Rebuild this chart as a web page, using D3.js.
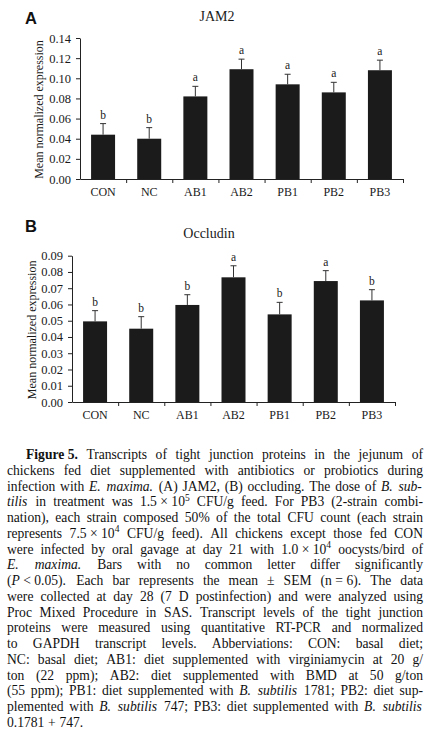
<!DOCTYPE html>
<html>
<head>
<meta charset="utf-8">
<script src="https://cdn.jsdelivr.net/npm/d3@7"></script>
<style>
  html, body { margin: 0; padding: 0; background: #fff; }
  svg { display: block; }
</style>
</head>
<body>
<div id="app"></div>
<script>
"use strict";

// treatment groups (same order in both panels)
const categories = ["CON", "NC", "AB1", "AB2", "PB1", "PB2", "PB3"];

// panel A - JAM2
const jam2Mean = [0.044, 0.040, 0.082, 0.109, 0.094, 0.086, 0.108];
const jam2Sem = [0.011, 0.011, 0.010, 0.010, 0.010, 0.010, 0.010];
const jam2Letters = ["b", "b", "a", "a", "a", "a", "a"];
const jam2Ticks = [0, 0.02, 0.04, 0.06, 0.08, 0.10, 0.12, 0.14];

// panel B - Occludin
const occMean = [0.0496, 0.0451, 0.0597, 0.0767, 0.0539, 0.0744, 0.0625];
const occSem = [0.0066, 0.0074, 0.0063, 0.0071, 0.0074, 0.0064, 0.0066];
const occLetters = ["b", "b", "b", "a", "b", "a", "b"];
const occTicks = [0, 0.01, 0.02, 0.03, 0.04, 0.05, 0.06, 0.07, 0.08, 0.09];

// caption, one entry per printed line
// _x_ italic, *x* bold, ^x^ superscript, ~ fixed space
const captionLines = [
  "*Figure~5.* Transcripts of tight junction proteins in the jejunum of",
  "chickens fed diet supplemented with antibiotics or probiotics during",
  "infection with _E._ _maxima._ (A) JAM2, (B) occluding. The dose of _B._ _sub-_",
  "_tilis_ in treatment was 1.5~×~10^5^ CFU/g feed. For PB3 (2-strain combi-",
  "nation), each strain composed 50% of the total CFU count (each strain",
  "represents 7.5~×~10^4^ CFU/g feed). All chickens except those fed CON",
  "were infected by oral gavage at day 21 with 1.0~×~10^4^ oocysts/bird of",
  "_E._ _maxima._ Bars with no common letter differ significantly",
  "(_P_~<~0.05). Each bar represents the mean ± SEM (n~=~6). The data",
  "were collected at day 28 (7 D postinfection) and were analyzed using",
  "Proc Mixed Procedure in SAS. Transcript levels of the tight junction",
  "proteins were measured using quantitative RT-PCR and normalized",
  "to GAPDH transcript levels. Abberviations: CON: basal diet;",
  "NC: basal diet; AB1: diet supplemented with virginiamycin at 20 g/",
  "ton (22 ppm); AB2: diet supplemented with BMD at 50 g/ton",
  "(55 ppm); PB1: diet supplemented with _B._ _subtilis_ 1781; PB2: diet sup-",
  "plemented with _B._ _subtilis_ 747; PB3: diet supplemented with _B._ _subtilis_",
  "0.1781 + 747."
];

const SERIF = "'Liberation Serif', 'Times New Roman', serif";
const SANS = "'Liberation Sans', Arial, sans-serif";
const INK = "#1a1a1a";

const width = 426;
const height = 734;

const svg = d3.select("#app")
  .append("svg")
  .attr("width", width)
  .attr("height", height);

svg.append("rect")
  .attr("width", width)
  .attr("height", height)
  .attr("fill", "#fff");

const panels = [
  {
    label: "A", title: "JAM2",
    means: jam2Mean, sems: jam2Sem, letters: jam2Letters, ticks: jam2Ticks,
    left: 80, right: 403, top: 38, bottom: 179,
    labelY: 24, titleY: 21, yTitleX: 43
  },
  {
    label: "B", title: "Occludin",
    means: occMean, sems: occSem, letters: occLetters, ticks: occTicks,
    left: 72, right: 395, top: 255.7, bottom: 402,
    labelY: 232, titleY: 238, yTitleX: 36
  }
];

function styleAxis(g) {
  g.attr("font-family", SERIF)
    .attr("font-size", 12.5)
    .attr("color", "#222");
  g.selectAll("text").attr("fill", INK);
}

function drawPanel(p) {
  const g = svg.append("g");

  const x = d3.scaleBand()
    .domain(categories)
    .range([p.left, p.right])
    .paddingInner(0.48)
    .paddingOuter(0.24);

  // edges between groups, for the small ticks on the x axis
  const xEdge = d3.scaleLinear()
    .domain([0, categories.length])
    .range([p.left, p.right]);

  const y = d3.scaleLinear()
    .domain([0, d3.max(p.ticks)])
    .range([p.bottom, p.top]);

  const rows = categories.map((c, i) => ({
    cat: c, mean: p.means[i], sem: p.sems[i], letter: p.letters[i]
  }));

  g.selectAll("rect.bar")
    .data(rows)
    .join("rect")
    .attr("class", "bar")
    .attr("x", d => x(d.cat))
    .attr("y", d => y(d.mean))
    .attr("width", x.bandwidth())
    .attr("height", d => y(0) - y(d.mean))
    .attr("fill", "#1b1b1b");

  const cx = d => x(d.cat) + x.bandwidth() / 2;

  // upper whisker only
  g.selectAll("line.err")
    .data(rows)
    .join("line")
    .attr("class", "err")
    .attr("x1", cx)
    .attr("x2", cx)
    .attr("y1", d => y(d.mean))
    .attr("y2", d => y(d.mean + d.sem))
    .attr("stroke", "#333")
    .attr("stroke-width", 1);

  g.selectAll("line.cap")
    .data(rows)
    .join("line")
    .attr("class", "cap")
    .attr("x1", d => cx(d) - 3)
    .attr("x2", d => cx(d) + 3)
    .attr("y1", d => y(d.mean + d.sem))
    .attr("y2", d => y(d.mean + d.sem))
    .attr("stroke", "#333")
    .attr("stroke-width", 1);

  g.selectAll("text.letter")
    .data(rows)
    .join("text")
    .attr("class", "letter")
    .attr("x", cx)
    .attr("y", d => y(d.mean + d.sem) - 5)
    .attr("text-anchor", "middle")
    .attr("font-family", SERIF)
    .attr("font-size", 11.5)
    .attr("fill", INK)
    .text(d => d.letter);

  // y axis
  g.append("g")
    .attr("transform", `translate(${p.left},0)`)
    .call(d3.axisLeft(y)
      .tickValues(p.ticks)
      .tickFormat(d3.format(".2f"))
      .tickSize(4)
      .tickSizeOuter(0)
      .tickPadding(5))
    .call(styleAxis);

  // x axis line + edge ticks
  g.append("g")
    .attr("transform", `translate(0,${p.bottom})`)
    .call(d3.axisBottom(xEdge)
      .tickValues(d3.range(1, categories.length + 1))
      .tickFormat("")
      .tickSize(4)
      .tickSizeOuter(0))
    .call(styleAxis);

  // category labels
  g.append("g")
    .attr("transform", `translate(0,${p.bottom})`)
    .call(d3.axisBottom(x).tickSize(0).tickPadding(8.5))
    .call(styleAxis)
    .call(a => a.select(".domain").remove())
    .call(a => a.selectAll("text").attr("font-size", 12));

  // y title
  g.append("text")
    .attr("transform", `translate(${p.yTitleX},${(p.top + p.bottom) / 2 + 1}) rotate(-90)`)
    .attr("text-anchor", "middle")
    .attr("font-family", SERIF)
    .attr("font-size", 12)
    .attr("fill", INK)
    .text("Mean normalized expression");

  // chart title
  g.append("text")
    .attr("x", p.left + 137)
    .attr("y", p.titleY)
    .attr("text-anchor", "middle")
    .attr("font-family", SERIF)
    .attr("font-size", 14)
    .attr("fill", INK)
    .text(p.title);

  // panel letter
  g.append("text")
    .attr("x", 25)
    .attr("y", p.labelY)
    .attr("font-family", SANS)
    .attr("font-weight", "bold")
    .attr("font-size", 16.5)
    .attr("fill", "#111")
    .text(p.label);
}

panels.forEach(drawPanel);

// ---- caption ----

function parseWord(word) {
  const parts = word.split(/(_[^_]+_|\*[^*]+\*|\^[^^]+\^)/).filter(s => s.length);
  return parts.map(s => {
    let style = "plain";
    let t = s;
    if (s[0] === "_") { style = "italic"; t = s.slice(1, -1); }
    else if (s[0] === "*") { style = "bold"; t = s.slice(1, -1); }
    else if (s[0] === "^") { style = "sup"; t = s.slice(1, -1); }
    return { t: t.replace(/~/g, "\u00a0"), style: style };
  });
}

function layLine(cap, line, yBase, fs) {
  return line.split(" ").map(w => {
    const t = cap.append("text").attr("y", yBase).attr("font-size", fs);
    parseWord(w).forEach(r => {
      const ts = t.append("tspan").text(r.t);
      if (r.style === "italic") ts.attr("font-style", "italic");
      if (r.style === "bold") ts.attr("font-weight", "bold");
      if (r.style === "sup") ts.attr("font-size", fs * 0.7).attr("dy", -fs * 0.42);
    });
    // a little extra room for italic overhang
    const extra = w.indexOf("_") >= 0 ? fs * 0.08 : 0;
    return { node: t, w: t.node().getComputedTextLength() + extra };
  });
}

function drawCaption() {
  const capLeft = 7;
  const capRight = 423;
  const firstBase = 459;
  const lineH = 15.76;
  const fontSize = 13.6;
  const minGap = 3;

  const cap = svg.append("g")
    .attr("font-family", SERIF)
    .attr("fill", "#111");

  captionLines.forEach((line, li) => {
    const yBase = firstBase + li * lineH;
    const x0 = li === 0 ? capLeft + 19 : capLeft;
    const last = li === captionLines.length - 1;
    const avail = capRight - x0;

    let fs = fontSize;
    let words = layLine(cap, line, yBase, fs);
    let total = d3.sum(words, d => d.w);
    if (total + (words.length - 1) * minGap > avail) {
      // shrink this line just enough to fit
      words.forEach(d => d.node.remove());
      fs = fs * (avail - (words.length - 1) * minGap) / total;
      words = layLine(cap, line, yBase, fs);
      total = d3.sum(words, d => d.w);
    }

    let gap = fs * 0.27;
    if (!last && words.length > 1) {
      gap = Math.max((avail - total) / (words.length - 1), minGap);
    }
    let cx = x0;
    words.forEach(d => {
      d.node.attr("x", cx);
      cx += d.w + gap;
    });
  });
}

drawCaption();
</script>
</body>
</html>
